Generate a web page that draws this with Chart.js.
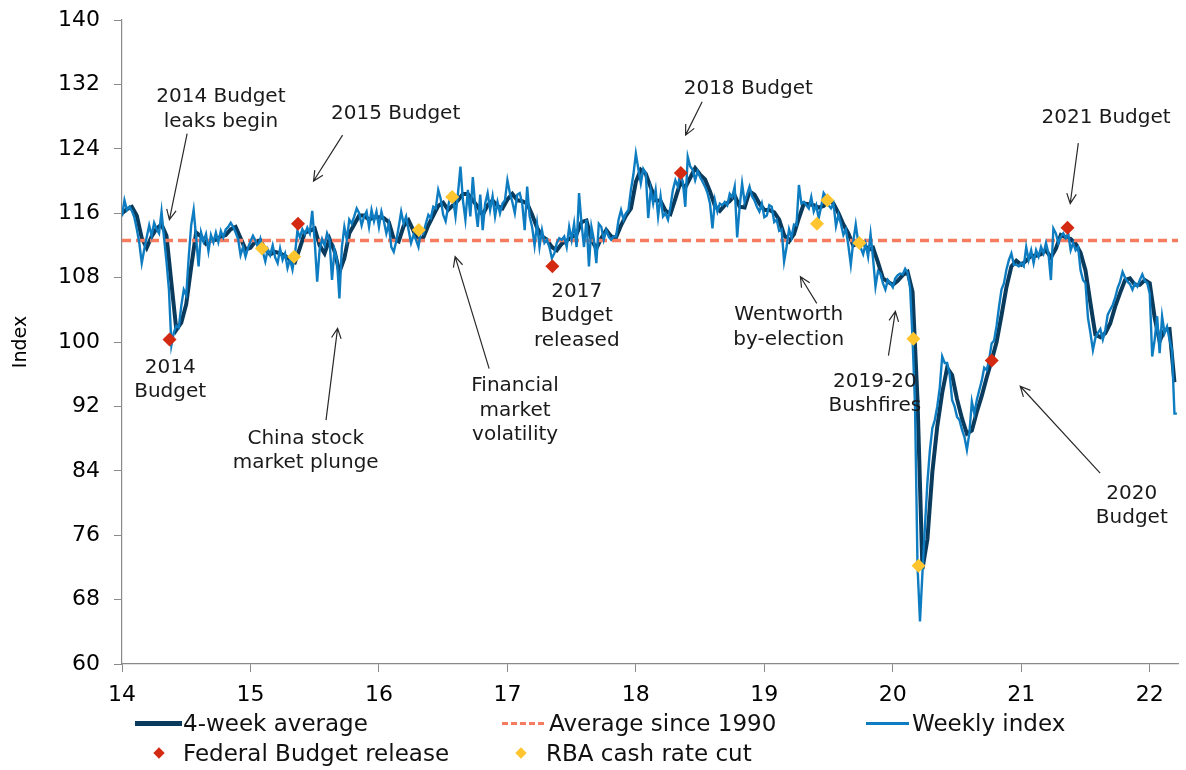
<!DOCTYPE html>
<html>
<head>
<meta charset="utf-8">
<title>Consumer confidence</title>
<script src="https://cdn.jsdelivr.net/npm/chart.js@4.4.1/dist/chart.umd.min.js"></script>
<style>
  html, body { margin: 0; padding: 0; background: #fff; }
  #wrap { position: relative; width: 1186px; height: 770px; }
  #legend { position: absolute; left: 0; top: 0; width: 1186px; height: 770px; pointer-events: none;
            font-family: 'DejaVu Sans', Verdana, sans-serif; font-size: 23px; color: #111; }
  #legend .sw { position: absolute; display: block; }
  #legend .lbl { position: absolute; line-height: 26px; white-space: nowrap; }
  #legend .dia { position: absolute; width: 8px; height: 8px; transform: rotate(45deg); }
</style>
</head>
<body>
<div id="wrap">
  <canvas id="chart" width="1186" height="770"></canvas>
  <div id="legend">
    <span class="sw" style="left:135px;top:721px;width:47px;height:5px;background:#0A3A5C"></span>
    <span class="lbl" style="left:183px;top:710px">4-week average</span>
    <span class="sw" style="left:502px;top:722px;width:44px;height:3px;background:repeating-linear-gradient(90deg,#F77B5F 0 6px,transparent 6px 9px)"></span>
    <span class="lbl" style="left:549px;top:710px">Average since 1990</span>
    <span class="sw" style="left:866px;top:722px;width:43px;height:3px;background:#0E7CC1"></span>
    <span class="lbl" style="left:912px;top:710px">Weekly index</span>
    <span class="dia" style="left:155px;top:749px;background:#D42A12"></span>
    <span class="lbl" style="left:183px;top:740px">Federal Budget release</span>
    <span class="dia" style="left:517px;top:749px;background:#FFC52F"></span>
    <span class="lbl" style="left:546px;top:740px">RBA cash rate cut</span>
  </div>
</div>
<script>
// weekly index, one array per year (52 weeks each), 14 = 2014
const weekly14 = [115.6, 117.6, 116.4, 116.8, 116.3, 115.5, 114.0, 112.3, 109.8, 111.5,
  113.0, 114.5, 113.2, 114.8, 114.0, 113.5, 116.2, 113.0, 110.0, 106.5,
  99.6, 101.2, 102.0, 101.8, 104.5, 106.5, 105.8, 110.5, 114.5, 116.4,
  113.0, 109.4, 113.6, 112.5, 113.4, 111.3, 113.3, 112.4, 113.6, 112.4,
  113.8, 113.0, 114.0, 114.3, 114.8, 114.3, 113.6, 112.8, 110.8, 111.8,
  110.6, 111.7];
const weekly15 = [112.5, 113.2, 112.6, 111.8, 112.8, 111.2, 110.0, 111.5, 110.8, 112.0,
  110.5, 109.8, 111.6, 110.2, 111.0, 109.2, 110.3, 109.0, 110.9, 113.8,
  113.0, 114.0, 113.4, 114.2, 113.5, 116.3, 112.5, 107.5, 111.5, 112.8,
  112.0, 113.5, 112.7, 107.7, 111.4, 110.2, 105.4, 111.8, 114.3, 112.7,
  115.2, 114.7, 115.6, 116.6, 116.0, 114.5, 115.6, 116.2, 114.3, 116.4,
  115.0, 116.2];
const weekly16 = [114.3, 116.2, 115.0, 113.5, 114.7, 111.8, 111.2, 112.5, 114.3, 116.2,
  114.7, 115.6, 113.9, 112.3, 113.3, 112.7, 111.8, 113.9, 113.5, 114.7,
  115.8, 115.4, 116.8, 116.6, 118.9, 117.8, 115.8, 115.0, 116.8, 118.3,
  117.8, 115.6, 118.5, 121.8, 117.6, 115.2, 118.9, 115.6, 120.5, 116.8,
  114.3, 118.3, 113.9, 117.2, 118.5, 116.4, 118.1, 115.6, 117.4, 116.0,
  117.2, 117.6];
const weekly17 = [120.1, 118.5, 117.4, 116.0, 118.3, 118.5, 117.2, 113.9, 119.3, 115.6,
  114.3, 112.0, 114.7, 111.8, 113.9, 112.3, 112.7, 111.8, 110.4, 111.0,
  112.3, 112.9, 112.7, 113.1, 111.8, 114.3, 112.7, 114.7, 111.8, 118.5,
  114.7, 111.8, 115.2, 109.4, 114.3, 112.7, 109.8, 114.7, 114.3, 112.7,
  113.9, 113.1, 112.7, 113.1, 113.1, 115.2, 116.4, 115.2, 116.0, 116.4,
  118.9, 120.8];
const weekly18 = [123.4, 121.5, 119.7, 121.5, 121.0, 115.4, 118.9, 117.2, 118.9, 115.6,
  118.1, 115.6, 116.0, 115.2, 116.8, 118.9, 120.1, 119.3, 120.9, 119.9,
  116.8, 123.0, 121.8, 121.4, 120.1, 121.2, 120.5, 119.9, 119.3, 118.5,
  117.2, 114.1, 117.6, 116.2, 117.2, 117.0, 117.4, 117.0, 118.4, 118.0,
  119.3, 113.0, 116.8, 119.7, 117.4, 118.3, 119.3, 118.1, 117.6, 116.8,
  116.2, 117.2];
const weekly19 = [115.5, 115.7, 117.0, 116.8, 114.9, 115.2, 113.8, 114.0, 110.0, 111.8,
  114.0, 113.0, 114.6, 114.5, 119.5, 117.2, 117.4, 117.0, 116.6, 118.0,
  116.2, 117.0, 115.4, 116.8, 118.5, 118.0, 117.0, 116.6, 117.2, 114.4,
  115.8, 114.7, 113.3, 114.0, 112.0, 109.6, 112.5, 114.6, 112.4, 111.7,
  110.9, 112.2, 110.6, 113.4, 110.4, 106.9, 108.8, 108.5, 107.3, 106.5,
  107.7, 107.3];
const weekly20 = [106.8, 107.9, 108.3, 108.5, 108.4, 109.1, 108.6, 106.7, 100.4, 92.0,
  72.2, 65.3, 71.3, 77.0, 82.5, 86.5, 89.3, 90.3, 92.0, 94.3,
  98.2, 97.4, 97.4, 96.0, 92.8, 92.0, 90.7, 90.3, 89.1, 88.2,
  86.6, 88.7, 92.6, 91.1, 92.8, 94.0, 95.2, 96.8, 96.5, 97.8,
  99.8, 100.2, 102.0, 104.4, 106.5, 107.3, 109.0, 110.2, 111.0, 109.6,
  109.6, 109.4];
const weekly21 = [109.8, 109.4, 111.8, 110.2, 111.4, 109.8, 111.4, 110.6, 111.8, 111.0,
  112.3, 111.0, 107.7, 114.1, 113.5, 112.3, 113.1, 113.5, 112.9, 113.5,
  111.4, 112.3, 111.4, 111.8, 108.9, 107.7, 107.3, 103.0, 101.1, 99.0,
  100.5, 101.1, 101.6, 100.3, 101.5, 103.4, 104.0, 104.6, 105.5, 106.7,
  107.5, 108.7, 108.0, 107.5, 107.2, 106.5, 107.3, 106.9, 107.7, 108.4,
  107.6, 107.3];
const weekly22 = [106.0, 98.2, 100.3, 103.2, 98.6, 103.2, 101.1, 101.9, 100.3, 99.0, 91.1, 91.1];

// 4-week average, read every second week
const avg4w14 = [116.0, 116.5, 116.8, 115.7, 112.9, 111.7, 113.1, 114.1, 114.6, 113.2, 107.3, 101.5, 102.4,
  104.7, 109.3, 113.6, 113.1, 112.2, 112.6, 112.7, 113.1, 113.3, 114.0, 114.3, 112.9, 111.5];
const avg4w15 = [111.7, 112.5, 112.6, 111.5, 110.9, 111.2, 111.0, 110.7, 110.2, 109.9, 111.7, 113.6, 113.8,
  114.1, 112.0, 111.0, 112.8, 111.3, 108.7, 110.4, 113.5, 114.6, 115.7, 115.7, 115.2, 115.5];
const avg4w16 = [115.5, 115.4, 114.9, 112.8, 112.5, 114.4, 115.1, 113.8, 112.5, 113.0, 114.5, 115.7, 116.9,
  117.3, 116.4, 117.0, 117.6, 118.4, 118.4, 117.6, 116.8, 115.8, 117.0, 117.6, 116.9, 116.6];
const avg4w17 = [117.7, 118.4, 117.6, 117.5, 117.2, 115.8, 114.2, 113.1, 112.7, 111.8, 111.4, 112.2, 112.6,
  113.0, 113.4, 114.9, 115.1, 112.7, 111.6, 112.9, 113.9, 113.1, 113.0, 114.5, 115.7, 116.6];
const avg4w18 = [119.9, 121.4, 120.9, 119.2, 117.6, 117.5, 116.3, 115.9, 117.8, 119.8, 119.2, 120.4, 121.6,
  120.8, 120.2, 118.7, 116.9, 116.3, 117.0, 117.5, 118.2, 116.8, 116.7, 118.7, 118.3, 117.2];
const avg4w19 = [116.4, 116.4, 116.1, 115.2, 113.3, 112.5, 113.4, 115.4, 117.2, 117.1, 117.0, 116.7, 116.9,
  117.6, 117.2, 116.0, 114.6, 113.5, 112.0, 112.3, 112.4, 111.4, 111.7, 109.9, 107.9, 107.5];
const avg4w20 = [107.1, 107.6, 108.3, 108.7, 106.2, 92.8, 71.8, 75.5, 83.8, 89.5, 93.7, 96.8, 95.9,
  92.9, 90.5, 88.6, 89.0, 91.3, 93.3, 95.6, 97.7, 100.0, 103.3, 106.8, 109.4, 110.1];
const avg4w21 = [109.6, 110.1, 110.7, 110.7, 110.9, 111.4, 110.5, 111.6, 113.3, 113.0, 112.8, 112.2, 111.1,
  108.9, 104.8, 100.9, 100.6, 101.1, 102.3, 104.4, 106.1, 107.7, 107.9, 107.1, 107.1, 107.7];
const avg4w22 = [107.3, 103.0, 100.1, 101.5, 101.6, 95.0];

const averageSince1990 = 112.6;

// event markers, dates as decimal years
const budgetDates = [14.37, 15.37, 17.35, 18.35, 20.77, 21.36];
const budgetValues = [100.3, 114.7, 109.4, 121.0, 97.7, 114.2];
const rbaCutDates = [15.09, 15.34, 16.31, 16.57, 19.41, 19.49, 19.74, 20.16, 20.20];
const rbaCutValues = [111.6, 110.6, 113.9, 118.0, 114.7, 117.6, 112.3, 100.4, 72.2];

const xTickLabels = ['14', '15', '16', '17', '18', '19', '20', '21', '22'];
const yTicks = [60, 68, 76, 84, 92, 100, 108, 116, 124, 132, 140];

const notes = [
  { lines: ['2014 Budget', 'leaks begin'], x: 14.77, y: 130.4 },
  { lines: ['2015 Budget'], x: 16.13, y: 128.4 },
  { lines: ['2018 Budget'], x: 18.875, y: 131.4 },
  { lines: ['2021 Budget'], x: 21.66, y: 127.9 },
  { lines: ['2014', 'Budget'], x: 14.375, y: 96.8 },
  { lines: ['China stock', 'market plunge'], x: 15.43, y: 88.0 },
  { lines: ['Financial', 'market', 'volatility'], x: 17.06, y: 94.5 },
  { lines: ['2017', 'Budget', 'released'], x: 17.54, y: 106.25 },
  { lines: ['Wentworth', 'by-election'], x: 19.19, y: 103.35 },
  { lines: ['2019-20', 'Bushfires'], x: 19.86, y: 95.07 },
  { lines: ['2020', 'Budget'], x: 21.86, y: 81.2 }
];
const arrows = [
  { from: [14.507, 125.9], to: [14.369, 115.2] },
  { from: [15.717, 125.7], to: [15.491, 120.0] },
  { from: [18.516, 129.85], to: [18.387, 125.7] },
  { from: [21.444, 124.7], to: [21.381, 117.2] },
  { from: [15.588, 90.3], to: [15.678, 101.7] },
  { from: [16.858, 96.7], to: [16.593, 110.6] },
  { from: [19.408, 104.8], to: [19.281, 108.1] },
  { from: [19.966, 98.3], to: [20.02, 103.8] },
  { from: [21.614, 83.7], to: [20.992, 94.5] }
];

const xMin = 14;
const xMax = 22.22;

const weekly = [].concat(weekly14, weekly15, weekly16, weekly17, weekly18, weekly19, weekly20, weekly21, weekly22);
const avg4w = [].concat(avg4w14, avg4w15, avg4w16, avg4w17, avg4w18, avg4w19, avg4w20, avg4w21, avg4w22);

const weeklyPoints = weekly.map((v, i) => ({ x: xMin + i / 52, y: v }));
const avgPoints = avg4w.map((v, i) => ({ x: xMin + (2 * i) / 52, y: v }));
const budgetPoints = budgetDates.map((d, i) => ({ x: d, y: budgetValues[i] }));
const rbaPoints = rbaCutDates.map((d, i) => ({ x: d, y: rbaCutValues[i] }));

const FONT = "'DejaVu Sans', Verdana, sans-serif";
const AXIS_GREY = '#8a8a8a';

function drawArrow(ctx, x1, y1, x2, y2) {
  const ang = Math.atan2(y2 - y1, x2 - x1);
  const len = 11;
  ctx.beginPath();
  ctx.moveTo(x1, y1);
  ctx.lineTo(x2, y2);
  ctx.moveTo(x2 - len * Math.cos(ang - 0.45), y2 - len * Math.sin(ang - 0.45));
  ctx.lineTo(x2, y2);
  ctx.lineTo(x2 - len * Math.cos(ang + 0.45), y2 - len * Math.sin(ang + 0.45));
  ctx.stroke();
}

// text labels and arrows, placed in data units
const notesPlugin = {
  id: 'notes',
  afterDraw(chart) {
    const { ctx } = chart;
    const xs = chart.scales.x, ys = chart.scales.y;
    ctx.save();
    ctx.fillStyle = '#1a1a1a';
    ctx.font = '20px ' + FONT;
    ctx.textAlign = 'center';
    ctx.textBaseline = 'middle';
    notes.forEach(n => {
      const px = xs.getPixelForValue(n.x);
      const py = ys.getPixelForValue(n.y);
      n.lines.forEach((t, k) => ctx.fillText(t, px, py + k * 24.5));
    });
    ctx.strokeStyle = '#2a2a2a';
    ctx.lineWidth = 1.2;
    arrows.forEach(a => {
      drawArrow(ctx,
        xs.getPixelForValue(a.from[0]), ys.getPixelForValue(a.from[1]),
        xs.getPixelForValue(a.to[0]), ys.getPixelForValue(a.to[1]));
    });
    ctx.restore();
  }
};

Chart.defaults.font.family = FONT;
Chart.defaults.color = '#111';

new Chart(document.getElementById('chart'), {
  type: 'line',
  data: {
    datasets: [
      {
        label: 'Federal Budget release',
        data: budgetPoints,
        showLine: false,
        pointStyle: 'rectRot',
        pointRadius: 7,
        pointBackgroundColor: '#D42A12',
        pointBorderColor: '#D42A12',
        pointBorderWidth: 0,
        order: 0
      },
      {
        label: 'RBA cash rate cut',
        data: rbaPoints,
        showLine: false,
        pointStyle: 'rectRot',
        pointRadius: 7,
        pointBackgroundColor: '#FFC52F',
        pointBorderColor: '#FFC52F',
        pointBorderWidth: 0,
        order: 0
      },
      {
        label: 'Weekly index',
        data: weeklyPoints,
        borderColor: '#0E7CC1',
        borderWidth: 2.4,
        pointRadius: 0,
        tension: 0,
        order: 1
      },
      {
        label: 'Average since 1990',
        data: [{ x: xMin, y: averageSince1990 }, { x: xMax, y: averageSince1990 }],
        borderColor: '#F77B5F',
        borderWidth: 3.4,
        borderDash: [9, 5],
        pointRadius: 0,
        order: 2
      },
      {
        label: '4-week average',
        data: avgPoints,
        borderColor: '#0A3A5C',
        borderWidth: 4,
        pointRadius: 0,
        tension: 0,
        order: 3
      }
    ]
  },
  options: {
    responsive: false,
    animation: false,
    layout: { padding: { top: 20, right: 8, bottom: 56, left: 0 } },
    plugins: {
      legend: { display: false },
      tooltip: { enabled: false }
    },
    scales: {
      x: {
        type: 'linear',
        min: xMin,
        max: xMax,
        afterFit: (scale) => { scale.height = 50; },
        grid: { drawOnChartArea: false, color: AXIS_GREY, tickLength: 8 },
        border: { color: AXIS_GREY, width: 1.2 },
        ticks: {
          stepSize: 1,
          autoSkip: false,
          maxRotation: 0,
          includeBounds: false,
          padding: 10,
          font: { size: 22 },
          color: '#000',
          callback: (v) => xTickLabels[v - xMin]
        }
      },
      y: {
        min: yTicks[0],
        max: yTicks[yTicks.length - 1],
        afterFit: (scale) => {
          scale.width = 122;
          scale.paddingTop = 0;
          scale.paddingBottom = 0;
        },
        grid: { drawOnChartArea: false, color: AXIS_GREY, tickLength: 8 },
        border: { color: AXIS_GREY, width: 1.2 },
        title: {
          display: true,
          text: 'Index',
          font: { size: 19 },
          color: '#000',
          padding: { top: 10, bottom: 0 }
        },
        ticks: {
          stepSize: 8,
          padding: 14,
          font: { size: 22 },
          color: '#000'
        }
      }
    }
  },
  plugins: [notesPlugin]
});
</script>
</body>
</html>
